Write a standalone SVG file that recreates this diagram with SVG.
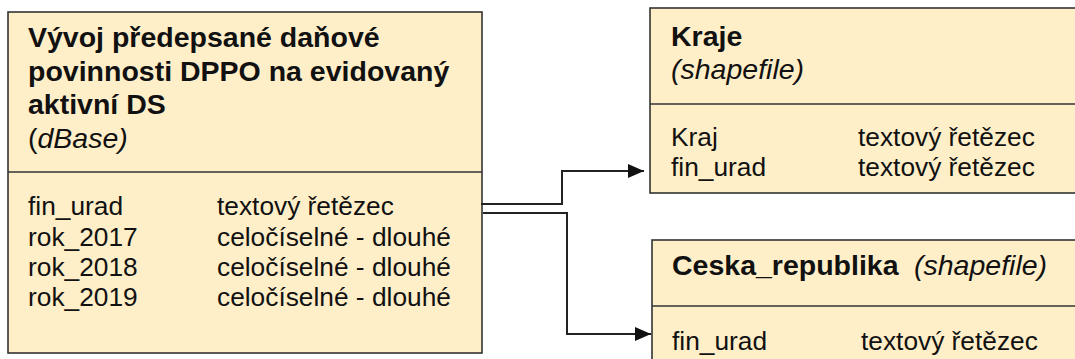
<svg xmlns="http://www.w3.org/2000/svg" width="1075" height="359" viewBox="0 0 1075 359">
  <style>
    .box { fill: #FFEFC9; stroke: #333333; stroke-width: 1.6; }
    .sep { stroke: #333333; stroke-width: 1.6; fill: none; }
    .ttl { font-family: "Liberation Sans", Arial, sans-serif; font-size: 28.5px; font-weight: bold; fill: #111111; }
    .typ { font-family: "Liberation Sans", Arial, sans-serif; font-size: 28.5px; font-style: italic; fill: #111111; }
    .fld { font-family: "Liberation Sans", Arial, sans-serif; font-size: 26.3px; fill: #111111; }
    .link { fill: none; stroke: #222222; stroke-width: 2; }
  </style>
  <defs>
    <marker id="arrow" markerUnits="userSpaceOnUse" markerWidth="17" markerHeight="15" refX="16" refY="7" orient="auto">
      <path d="M0,0 L16,7 L0,14 Z" fill="#111111"/>
    </marker>
  </defs>

  <rect x="0" y="0" width="1075" height="359" fill="#FFFFFF"/>

  <!-- dBase table -->
  <g id="vyvoj-dppo">
    <rect class="box" x="8" y="12" width="474" height="341"/>
    <line class="sep" x1="8" y1="172" x2="482" y2="172"/>
    <text class="ttl" x="28" y="47">Vývoj předepsané daňové</text>
    <text class="ttl" x="28" y="81">povinnosti DPPO na evidovaný</text>
    <text class="ttl" x="28" y="114">aktivní DS</text>
    <text class="typ" x="28" y="148"><tspan font-style="normal">(</tspan>dBase)</text>
    <text class="fld" x="28" y="215">fin_urad</text>
    <text class="fld" x="217" y="215">textový řetězec</text>
    <text class="fld" x="28" y="245.5">rok_2017</text>
    <text class="fld" x="217" y="245.5">celočíselné - dlouhé</text>
    <text class="fld" x="28" y="276">rok_2018</text>
    <text class="fld" x="217" y="276">celočíselné - dlouhé</text>
    <text class="fld" x="28" y="306">rok_2019</text>
    <text class="fld" x="217" y="306">celočíselné - dlouhé</text>
  </g>

  <!-- Kraje shapefile -->
  <g id="kraje">
    <rect class="box" x="650" y="8" width="440" height="185"/>
    <line class="sep" x1="650" y1="104" x2="1090" y2="104"/>
    <text class="ttl" x="671" y="46">Kraje</text>
    <text class="typ" x="671" y="79">(shapefile)</text>
    <text class="fld" x="671" y="146">Kraj</text>
    <text class="fld" x="858" y="146">textový řetězec</text>
    <text class="fld" x="671" y="176">fin_urad</text>
    <text class="fld" x="858" y="176">textový řetězec</text>
  </g>

  <!-- Ceska_republika shapefile -->
  <g id="ceska-republika">
    <rect class="box" x="652" y="240" width="440" height="140"/>
    <line class="sep" x1="652" y1="306" x2="1092" y2="306"/>
    <text x="672" y="275"><tspan class="ttl">Ceska_republika</tspan><tspan class="typ" x="914">(shapefile)</tspan></text>
    <text class="fld" x="672" y="350">fin_urad</text>
    <text class="fld" x="861" y="350">textový řetězec</text>
  </g>

  <!-- connectors -->
  <g id="connectors">
    <polyline class="link" points="481,204 562,204 562,171 644,171" marker-end="url(#arrow)"/>
    <polyline class="link" points="483,213 567,213 567,334 651,334" marker-end="url(#arrow)"/>
  </g>
</svg>
